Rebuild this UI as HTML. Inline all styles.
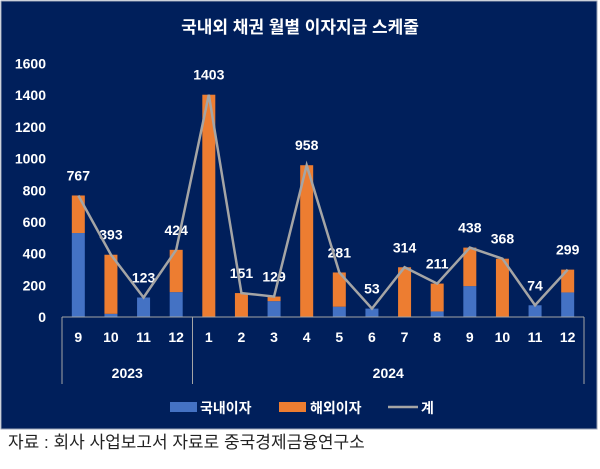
<!DOCTYPE html>
<html><head><meta charset="utf-8"><style>
body{margin:0;background:#fff;width:600px;height:464px;overflow:hidden}
text{font-family:"Liberation Sans","Noto Sans CJK KR",sans-serif}
</style></head><body>
<svg id="s" width="600" height="464" xmlns="http://www.w3.org/2000/svg">
<rect x="0" y="0" width="600" height="464" fill="#fff"/>
<rect x="1" y="1" width="596" height="428" fill="#001f5b" stroke="#9aa3b5" stroke-width="1"/>
<text x="300" y="33" fill="#fff" font-size="17" font-weight="bold" text-anchor="middle">국내외 채권 월별 이자지급 스케줄</text>
<text x="8" y="448" fill="#222" font-size="17">자료 : 회사 사업보고서 자료로 중국경제금융연구소</text>
</svg>
<script>
const s=document.getElementById('s'),NS='http://www.w3.org/2000/svg';
function el(t,a,txt){const e=document.createElementNS(NS,t);for(const k in a)e.setAttribute(k,a[k]);if(txt!=null)e.textContent=txt;s.appendChild(e);return e;}
const base=317,k=253.5/1600;
const tot=[767,393,123,424,1403,151,129,958,281,53,314,211,438,368,74,299];
const dom=[530,20,123,157,0,0,100,0,65,53,0,35,195,0,74,155];
const lab=['9','10','11','12','1','2','3','4','5','6','7','8','9','10','11','12'];
const x0=62,x1=584,w=(x1-x0)/16;
for(let v=0;v<=1600;v+=200)el('text',{x:46,y:base-v*k+5,fill:'#fff','font-size':14,'font-weight':'bold','text-anchor':'end'},v);
let pts=[];
tot.forEach((t,i)=>{const cx=x0+w*(i+0.5);const bw=13;
 const d=dom[i],f=t-d;
 if(d>0)el('rect',{x:cx-bw/2,y:base-d*k,width:bw,height:d*k,fill:'#4472c4'});
 if(f>0)el('rect',{x:cx-bw/2,y:base-t*k,width:bw,height:f*k,fill:'#ed7d31'});
 pts.push(cx+','+(base-t*k));
 el('text',{x:cx,y:base-t*k-15,fill:'#fff','font-size':14,'font-weight':'bold','text-anchor':'middle'},t);
 el('text',{x:cx,y:342,fill:'#fff','font-size':14,'font-weight':'bold','text-anchor':'middle'},lab[i]);
});
el('polyline',{points:pts.join(' '),fill:'none',stroke:'#a5a5a5','stroke-width':2.5});
el('line',{x1:x0,y1:base,x2:x1,y2:base,stroke:'#a5a5a5','stroke-width':1});
[x0,x0+4*w,x1].forEach(x=>el('line',{x1:x,y1:base,x2:x,y2:384,stroke:'#a5a5a5','stroke-width':1}));
el('text',{x:x0+2*w,y:378,fill:'#fff','font-size':14,'font-weight':'bold','text-anchor':'middle'},'2023');
el('text',{x:x0+10*w,y:378,fill:'#fff','font-size':14,'font-weight':'bold','text-anchor':'middle'},'2024');
el('rect',{x:170,y:402,width:27,height:10,fill:'#4472c4'});
el('text',{x:200,y:413,fill:'#fff','font-size':14,'font-weight':'bold'},'국내이자');
el('rect',{x:279,y:402,width:27,height:10,fill:'#ed7d31'});
el('text',{x:310,y:413,fill:'#fff','font-size':14,'font-weight':'bold'},'해외이자');
el('line',{x1:388,y1:407,x2:418,y2:407,stroke:'#a5a5a5','stroke-width':2.5});
el('text',{x:421,y:413,fill:'#fff','font-size':14,'font-weight':'bold'},'계');
</script>
</body></html>
